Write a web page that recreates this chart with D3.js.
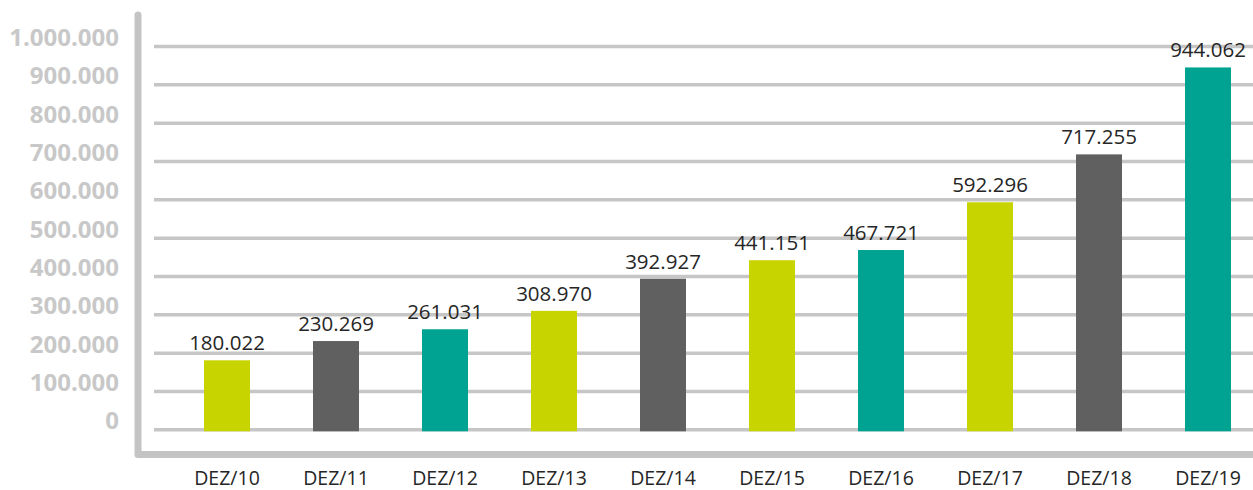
<!DOCTYPE html>
<html>
<head>
<meta charset="utf-8">
<script src="https://cdn.jsdelivr.net/npm/d3@7"></script>
<style>
  html, body { margin: 0; padding: 0; background: #fff; }
  svg { display: block; }
</style>
</head>
<body>
<svg id="chart" width="1253" height="490"></svg>
<script>
// Year-end totals (December of each year)
const categories = ["DEZ/10", "DEZ/11", "DEZ/12", "DEZ/13", "DEZ/14", "DEZ/15", "DEZ/16", "DEZ/17", "DEZ/18", "DEZ/19"];
const values = [180022, 230269, 261031, 308970, 392927, 441151, 467721, 592296, 717255, 944062];
const barColors = ["#c8d400", "#606060", "#00a391", "#c8d400", "#606060", "#c8d400", "#00a391", "#c8d400", "#606060", "#00a391"];
const yTicks = [0, 100000, 200000, 300000, 400000, 500000, 600000, 700000, 800000, 900000, 1000000];

const ptBR = d3.formatLocale({ decimal: ",", thousands: ".", grouping: [3], currency: ["R$", ""] });
const fmt = ptBR.format(",d");

const svg = d3.select("#chart");

const x = d3.scaleBand()
  .domain(categories)
  .range([172.5, 1262.5])
  .paddingInner(0.578)
  .paddingOuter(0.289);

const y = d3.scaleLinear()
  .domain([0, 1000000])
  .range([429.3, 46]);

// Horizontal gridlines
const grid = svg.append("g")
  .attr("transform", "translate(154,0)")
  .call(d3.axisLeft(y).tickValues(yTicks).tickSize(-(1253 - 154)).tickFormat(""));
grid.select(".domain").remove();
grid.selectAll(".tick line")
  .attr("stroke", "#c6c6c6")
  .attr("stroke-width", 3.5);

// Y tick labels
const yLabels = svg.append("g")
  .attr("transform", "translate(119,0)")
  .call(d3.axisLeft(y).tickValues(yTicks).tickSize(0).tickPadding(0).tickFormat(fmt));
yLabels.select(".domain").remove();
yLabels.selectAll(".tick text")
  .attr("dy", "0")
  .attr("y", -7)
  .attr("fill", "#c8c8c8")
  .style("font-family", "'Open Sans', sans-serif")
  .style("font-weight", "700")
  .style("font-size", "24px")
  .attr("text-anchor", "end")
  .attr("dominant-baseline", "middle");

// Bars
svg.append("g").selectAll("rect")
  .data(values)
  .join("rect")
  .attr("x", (d, i) => x(categories[i]))
  .attr("width", x.bandwidth())
  .attr("y", d => y(d))
  .attr("height", d => y(0) + 2 - y(d))
  .attr("fill", (d, i) => barColors[i]);

// Value labels
svg.append("g").selectAll("text")
  .data(values)
  .join("text")
  .attr("x", (d, i) => x(categories[i]) + x.bandwidth() / 2)
  .attr("y", d => y(d) - 10)
  .attr("text-anchor", "middle")
  .attr("fill", "#262626")
  .style("font-family", "'Open Sans', sans-serif")
  .style("font-size", "20.5px")
  .text(d => fmt(d));

// Frame: vertical axis with a rounded corner into the base line
svg.append("path")
  .attr("d", d3.line()([[138, 15], [138, 454.5], [1260, 454.5]]))
  .attr("fill", "none")
  .attr("stroke", "#c4c4c4")
  .attr("stroke-width", 7)
  .attr("stroke-linecap", "round")
  .attr("stroke-linejoin", "round");

// Category labels
const xAxis = svg.append("g")
  .attr("transform", "translate(0,485)")
  .call(d3.axisBottom(x).tickSize(0).tickPadding(0));
xAxis.select(".domain").remove();
xAxis.selectAll(".tick text")
  .attr("y", 0)
  .attr("dy", 0)
  .attr("fill", "#262626")
  .style("font-family", "'Open Sans', sans-serif")
  .style("font-size", "19.5px");
</script>
</body>
</html>
